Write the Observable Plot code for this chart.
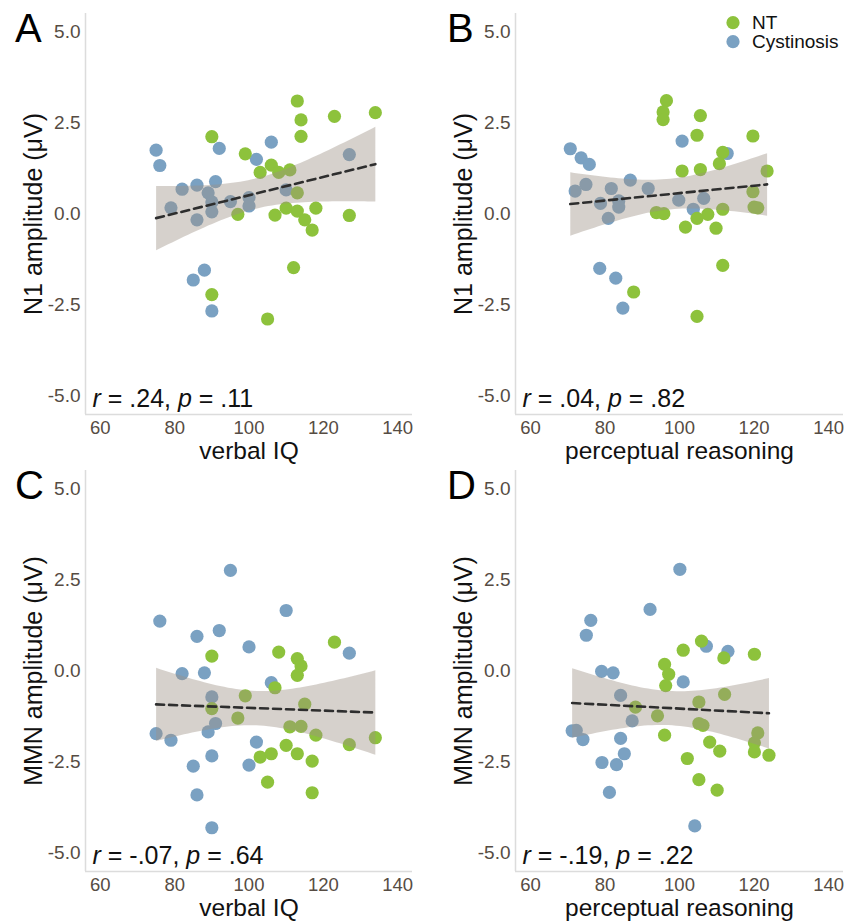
<!DOCTYPE html>
<html>
<head>
<meta charset="utf-8">
<script src="https://cdn.jsdelivr.net/npm/d3@7"></script>
<script src="https://cdn.jsdelivr.net/npm/@observablehq/plot@0.6"></script>
<style>
  html, body { margin: 0; padding: 0; background: #fff; }
  #wrap { position: relative; width: 845px; height: 922px; overflow: hidden; font-family: "Liberation Sans", Arial, sans-serif; }
  #wrap > svg { position: absolute; }
</style>
</head>
<body>
<div id="wrap"></div>
<script>
// ---------- data ----------
const xTicks = [60, 80, 100, 120, 140];
const yTicks = [-5, -2.5, 0, 2.5, 5];
const groups = ["NT", "Cystinosis"];

// Panel A: N1 amplitude vs verbal IQ
const aNtX = [113,134,123,114,114,90,99,106,103,108,111,113,97,107,110,113,118,115,117,127,112,90,105];
const aNtY = [3.10,2.78,2.68,2.58,2.13,2.12,1.65,1.34,1.14,1.14,1.21,0.58,-0.01,-0.03,0.16,0.08,0.16,-0.16,-0.44,-0.04,-1.47,-2.21,-2.88];
const aCyX = [75,76,92,106,102,127,91,86,82,89,110,90,95,100,100,79,86,90,88,85,90];
const aCyY = [1.75,1.33,1.80,1.97,1.50,1.63,0.89,0.79,0.68,0.58,0.66,0.33,0.34,0.45,0.22,0.17,-0.16,0.06,-1.54,-1.81,-2.66];

// Panel B: N1 amplitude vs perceptual reasoning
const bNtX = [96.5,95.6,95.6,105.6,104.7,119.7,111.6,110.7,100.7,105.6,123.5,119.7,120,121,111.6,93.8,95.8,107.6,104.7,101.6,109.8,111.6,87.7,104.7];
const bNtY = [3.11,2.80,2.59,2.70,2.16,2.14,1.69,1.38,1.18,1.22,1.18,0.61,0.19,0.17,0.13,0.04,0.01,-0.01,-0.12,-0.36,-0.39,-1.41,-2.14,-2.81];
const bCyX = [70.7,73.6,75.8,100.7,112.8,86.8,74.9,72.0,81.7,91.6,83.7,78.8,99.8,106.5,83.7,80.9,103.7,78.6,82.9,84.8];
const bCyY = [1.79,1.54,1.36,2.00,1.66,0.93,0.81,0.63,0.70,0.70,0.36,0.29,0.38,0.43,0.19,-0.12,0.13,-1.49,-1.76,-2.58];

// Panel C: MMN amplitude vs verbal IQ
const cNtX = [123,108,90,113,114,113,107,99,90,115,97,111,114,118,134,110,127,103,106,113,117,105,117];
const cNtY = [0.79,0.52,0.41,0.34,0.14,-0.12,-0.46,-0.68,-1.03,-0.91,-1.29,-1.53,-1.52,-1.76,-1.83,-2.04,-2.02,-2.36,-2.27,-2.27,-2.47,-3.05,-3.34];
const cCyX = [95,110,76,92,86,100,127,82,88,106,90,91,75,89,79,102,90,85,100,86,90];
const cCyY = [2.76,1.66,1.37,1.11,0.95,0.66,0.49,-0.07,-0.05,-0.32,-0.71,-1.44,-1.72,-1.67,-1.90,-1.95,-2.33,-2.61,-2.58,-3.40,-4.30];

// Panel D: MMN amplitude vs perceptual reasoning
const dNtX = [105.9,101.0,120.1,111.9,96.0,97.1,96.3,112.1,105.2,88.2,94.1,105.2,106.3,96.0,121.0,120.1,108.1,110.8,120.1,124.0,102.1,105.2,110.1];
const dNtY = [0.82,0.57,0.46,0.36,0.18,-0.09,-0.40,-0.64,-0.85,-0.99,-1.23,-1.44,-1.49,-1.76,-1.70,-1.97,-1.95,-2.20,-2.22,-2.31,-2.40,-2.98,-3.27];
const dCyX = [100.1,92.1,76.2,75.0,107.2,113.0,79.1,82.2,101.0,84.2,87.3,71.2,72.3,74.1,84.2,85.2,79.2,83.1,81.2,104.1];
const dCyY = [2.79,1.69,1.39,0.98,0.68,0.54,-0.01,-0.05,-0.30,-0.67,-1.37,-1.64,-1.63,-1.88,-1.85,-2.27,-2.51,-2.57,-3.33,-4.25];

const letters = ["A", "B", "C", "D"];
const xLabels = ["verbal IQ", "perceptual reasoning", "verbal IQ", "perceptual reasoning"];
const yLabels = ["N1 amplitude (\u03BCV)", "N1 amplitude (\u03BCV)", "MMN amplitude (\u03BCV)", "MMN amplitude (\u03BCV)"];
const rValues = [".24", ".04", "-.07", "-.19"];
const pValues = [".11", ".82", ".64", ".22"];

// ---------- styling / layout ----------
const GREEN = "#8dc23c";
const BLUE = "#7aa1c2";
const TICK = "#564c43";
const FONT = "'Liberation Sans', Arial, Helvetica, sans-serif";

const layout = [
  {left: 0,   top: 0,   width: 422, marginRight: 10},
  {left: 430, top: 0,   width: 415, marginRight: 2},
  {left: 0,   top: 457, width: 422, marginRight: 10},
  {left: 430, top: 457, width: 415, marginRight: 2}
];

const series = [
  [aNtX, aNtY, aCyX, aCyY],
  [bNtX, bNtY, bCyX, bCyY],
  [cNtX, cNtY, cCyX, cCyY],
  [dNtX, dNtY, dCyX, dCyY]
];

const wrap = document.getElementById("wrap");

series.forEach(([ntX, ntY, cyX, cyY], i) => {
  const nt = ntX.map((x, k) => ({x, y: ntY[k], group: groups[0]}));
  const cy = cyX.map((x, k) => ({x, y: cyY[k], group: groups[1]}));
  const all = cy.concat(nt);
  const L = layout[i];
  const stat = `r = ${rValues[i]}, p = ${pValues[i]}`;

  const svg = Plot.plot({
    width: L.width,
    height: 460,
    marginLeft: 85,
    marginRight: L.marginRight,
    marginTop: 13,
    marginBottom: 46,
    style: {fontFamily: FONT, background: "transparent", overflow: "visible"},
    x: {domain: [56, 144]},
    y: {domain: [-5.5, 5.5]},
    marks: [
      Plot.ruleX([56], {stroke: "#dcdcdc", strokeWidth: 1.5}),
      Plot.ruleY([-5.5], {stroke: "#dcdcdc", strokeWidth: 1.5}),
      Plot.axisX({ticks: xTicks, tickSize: 0, tickPadding: 6, fontSize: 18.5, fill: TICK, label: null}),
      Plot.axisY({ticks: yTicks, tickSize: 0, tickPadding: 5, fontSize: 19, fill: TICK, label: null,
                  tickFormat: d => d.toFixed(1)}),
      Plot.dot(cy, {x: "x", y: "y", r: 6.6, fill: BLUE}),
      Plot.dot(nt, {x: "x", y: "y", r: 6.6, fill: GREEN}),
      Plot.linearRegressionY(all, {x: "x", y: "y", ci: 0.95, stroke: "#2e2e2e", strokeWidth: 2.6,
                                   strokeDasharray: "8,5", fill: "#9e9286", fillOpacity: 0.42}),
      Plot.text([xLabels[i]], {frameAnchor: "bottom", dy: 44, textAnchor: "middle", lineAnchor: "bottom", fontSize: 24.5, fill: "#111"}),
      Plot.text([yLabels[i]], {frameAnchor: "left", dx: -52, rotate: -90, textAnchor: "middle", lineAnchor: "middle", fontSize: 25, fill: "#111"}),
      Plot.text([stat], {frameAnchor: "bottom-left", dx: 7, dy: -8, textAnchor: "start", lineAnchor: "bottom", fontSize: 25, fill: "#111"})
    ]
  });

  // italic r and p in the statistic
  svg.querySelectorAll("text").forEach(t => {
    if (t.textContent === stat) {
      t.textContent = "";
      const parts = [["r", true], [` = ${rValues[i]}, `, false], ["p", true], [` = ${pValues[i]}`, false]];
      parts.forEach(([s, it]) => {
        const ts = document.createElementNS("http://www.w3.org/2000/svg", "tspan");
        ts.textContent = s;
        if (it) ts.setAttribute("font-style", "italic");
        t.appendChild(ts);
      });
    }
  });

  const s = d3.select(svg);
  // panel letter
  s.append("text").attr("x", i % 2 === 0 ? 15 : 17).attr("y", 42).attr("text-anchor", "start")
    .attr("font-size", 40).attr("font-family", FONT).attr("fill", "#000").text(letters[i]);

  // legend in panel B
  if (i === 1) {
    const lg = s.append("g").attr("font-family", FONT).attr("font-size", 19).attr("fill", "#111")
      .attr("text-anchor", "start");
    [[groups[0], GREEN, 22.7], [groups[1], BLUE, 41.7]].forEach(([name, col, y]) => {
      lg.append("circle").attr("cx", 303).attr("cy", y).attr("r", 6.6).attr("fill", col);
      lg.append("text").attr("x", 322).attr("y", y).attr("dy", "0.35em").text(name);
    });
  }

  svg.style.left = L.left + "px";
  svg.style.top = L.top + "px";
  wrap.appendChild(svg);
});
</script>
</body>
</html>
